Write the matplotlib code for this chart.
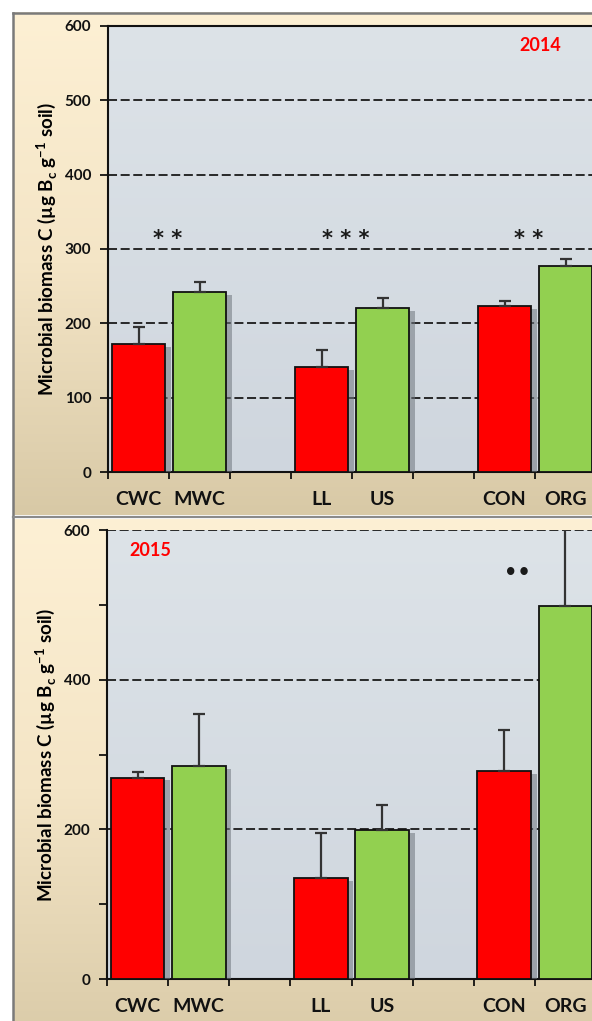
import numpy as np
import matplotlib
matplotlib.use('Agg')
import matplotlib.pyplot as plt
import matplotlib.patheffects as pe
from matplotlib.colors import LinearSegmentedColormap

plt.rcParams['font.family'] = ['Lato', 'DejaVu Sans']
plt.rcParams['font.weight'] = 'bold'

# treatments, with empty slots between the three comparisons
categories = ['CWC', 'MWC', '', 'LL', 'US', '', 'CON', 'ORG']
bar_pos = [0, 1, 3, 4, 6, 7]
bar_colors = ['#ff0000', '#92d050', '#ff0000', '#92d050', '#ff0000', '#92d050']

# microbial biomass C, mean and upper error
mbc_2014 = [172, 242, 141, 221, 223, 277]
err_2014 = [23, 13, 23, 13, 7, 10]
mbc_2015 = [269, 285, 135, 199, 278, 498]
err_2015 = [8, 69, 60, 34, 55, 150]

# significance marks: (x, y, text)
sig_2014 = [(0.48, 314, '* *'), (3.39, 314, '* * *'), (6.4, 314, '* *')]
sig_2015 = [(6.22, 543, '••')]

W, H = 592, 1021
fig = plt.figure(figsize=(W / 100, H / 100), dpi=100)

# frame behind both panels, drawn in pixel coordinates
bg = fig.add_axes([0, 0, 1, 1], zorder=-10)
frame_cmap = LinearSegmentedColormap.from_list('frame', ['#fdf0d4', '#f4e5c6', '#d8c9a6'])
grad = np.linspace(0, 1, 256).reshape(-1, 1)
bg.imshow(grad, extent=[13, 600, 515, 13], cmap=frame_cmap, aspect='auto')
bg.imshow(grad, extent=[13, 600, 1060, 519], cmap=frame_cmap, aspect='auto')
bg.plot([13, 13], [13, 1021], color='#7a7a7a', lw=1.8)
bg.plot([13, 600], [13, 13], color='#7a7a7a', lw=1.8)
bg.plot([13, 600], [517, 517], color='#8a8a8a', lw=1.6)
bg.set_xlim(0, W)
bg.set_ylim(H, 0)
bg.axis('off')

axes_cmap = LinearSegmentedColormap.from_list('plotbg', ['#dde3e8', '#cfd6de'])


def draw_panel(rect, values, errors, sigs, year, year_xy, yticks, minor, top_spine):
    ax = fig.add_axes(rect)
    ax.set_facecolor('none')
    ax.imshow(grad, extent=[0, 1, 0, 1], transform=ax.transAxes,
              cmap=axes_cmap, aspect='auto', zorder=0)

    for g in yticks[1:]:
        if g == 600 and top_spine:
            continue
        ax.axhline(g, color='#1a1a1a', lw=1.3, dashes=(5, 2), zorder=1)

    shadow = [pe.SimplePatchShadow(offset=(4, -2), shadow_rgbFace='#6f767e', alpha=0.55),
              pe.Normal()]
    bars = ax.bar(bar_pos, values, width=0.88, color=bar_colors,
                  edgecolor='#111111', linewidth=1.3, zorder=3)
    for b in bars:
        b.set_path_effects(shadow)
    ax.errorbar(bar_pos, values, yerr=[np.zeros(len(values)), errors], fmt='none',
                ecolor='#333333', elinewidth=1.6, capsize=4, capthick=1.6, zorder=4)

    for x, y, s in sigs:
        ax.text(x, y, s, ha='center', va='center', fontsize=15, family='DejaVu Sans',
                fontweight='bold', color='#1a1a1a', zorder=5)

    ax.text(year_xy[0], year_xy[1], year, transform=ax.transAxes, ha='center',
            va='center', fontsize=13, color='#ff0000', fontweight='bold')

    ax.set_xlim(-0.5, 7.5)
    ax.set_ylim(0, 600)
    ax.set_xticks(np.arange(-0.5, 8, 1))
    ax.set_xticklabels([])
    ax.set_xticks(np.arange(8), categories, minor=True)
    ax.tick_params(axis='x', which='major', direction='out', length=5, width=1.2)
    ax.tick_params(axis='x', which='minor', length=0, pad=14, labelsize=14)
    ax.set_yticks(yticks)
    if minor is not None:
        ax.set_yticks(minor, minor=True)
    ax.tick_params(axis='y', which='both', direction='out', length=6, width=1.2,
                   labelsize=11, pad=6)
    for lab in ax.get_xticklabels(minor=True) + ax.get_yticklabels():
        lab.set_fontweight('bold')
        lab.set_color('#111111')

    ax.spines['right'].set_visible(False)
    ax.spines['top'].set_visible(top_spine)
    for sp in ['left', 'bottom', 'top']:
        ax.spines[sp].set_linewidth(1.5)
        ax.spines[sp].set_color('#111111')
    ax.set_ylabel('Microbial biomass C (µg B$_\\mathregular{c}$ g$^\\mathregular{-1}$ soil)',
                  fontsize=13.5, fontweight='bold', labelpad=4)
    return ax


draw_panel([108 / W, 1 - 472 / H, 488 / W, 446 / H], mbc_2014, err_2014, sig_2014,
           '2014', (0.885, 0.957), np.arange(0, 601, 100), None, True)
draw_panel([107 / W, 1 - 979 / H, 489 / W, 449 / H], mbc_2015, err_2015, sig_2015,
           '2015', (0.088, 0.955), np.arange(0, 601, 200), np.arange(100, 601, 200), False)

fig.savefig('out.png', dpi=100)
